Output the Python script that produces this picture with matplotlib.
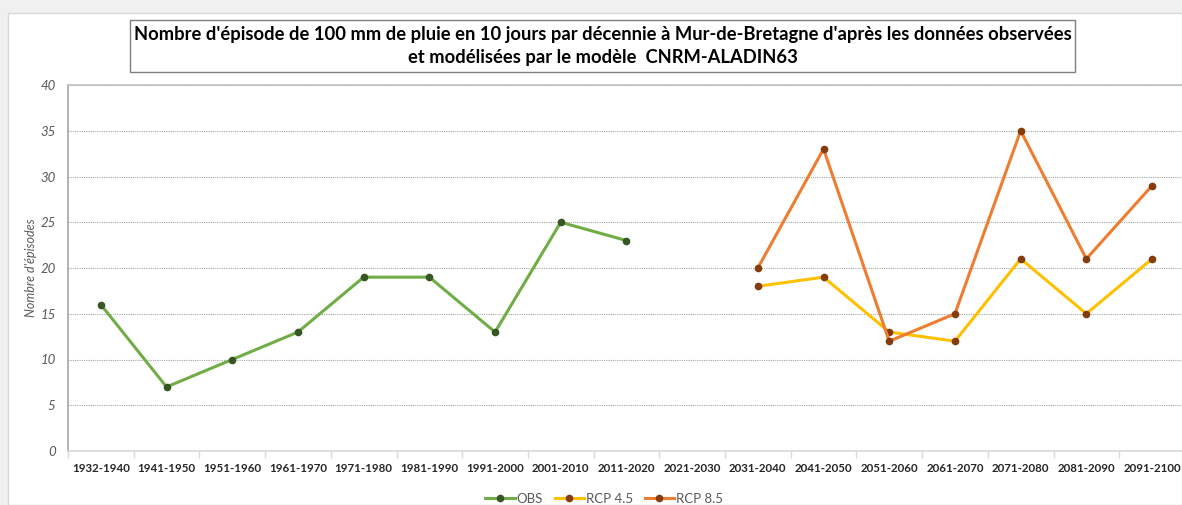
import numpy as np
import matplotlib
matplotlib.use("Agg")
import matplotlib.pyplot as plt
from matplotlib.patches import Rectangle

plt.rcParams['font.family'] = ['Lato', 'DejaVu Sans']

decennies = ["1932-1940", "1941-1950", "1951-1960", "1961-1970", "1971-1980",
             "1981-1990", "1991-2000", "2001-2010", "2011-2020", "2021-2030",
             "2031-2040", "2041-2050", "2051-2060", "2061-2070", "2071-2080",
             "2081-2090", "2091-2100"]
obs = [16, 7, 10, 13, 19, 19, 13, 25, 23, None, None, None, None, None, None, None, None]
rcp45 = [None] * 10 + [18, 19, 13, 12, 21, 15, 21]
rcp85 = [None] * 10 + [20, 33, 12, 15, 35, 21, 29]

def to_arr(v):
    return np.array([np.nan if x is None else x for x in v], dtype=float)

W, H = 1182, 505
fig = plt.figure(figsize=(W / 100, H / 100), dpi=100)
fig.patch.set_facecolor("#f0f0f0")

# white chart area
fig.patches.append(Rectangle((8 / W, 0), 1 - 8 / W, 1 - 13 / H, transform=fig.transFigure,
                             facecolor="white", edgecolor="#d9d9d9", lw=1, zorder=0))

left, right_px, top, bot = 68, 68 + 17 * 65.7, 85, 451
ax = fig.add_axes([left / W, (H - bot) / H, (right_px - left) / W, (bot - top) / H])
ax.set_zorder(3)
ax.set_facecolor("white")

x = np.arange(len(decennies))
ax.plot(x, to_arr(obs), color="#70ad47", lw=2.2, marker="o", ms=4.5,
        mfc="#375623", mec="#375623", label="OBS", zorder=3)
ax.plot(x, to_arr(rcp45), color="#ffc000", lw=2.2, marker="o", ms=4.5,
        mfc="#843c0c", mec="#843c0c", label="RCP 4.5", zorder=3)
ax.plot(x, to_arr(rcp85), color="#ed7d31", lw=2.2, marker="o", ms=4.5,
        mfc="#843c0c", mec="#843c0c", label="RCP 8.5", zorder=4)

ax.set_xlim(-0.5, len(decennies) - 0.5)
ax.set_ylim(0, 40)
ax.set_yticks(range(0, 41, 5))
ax.yaxis.grid(True, color="#a6a6a6", ls=(0, (1, 1)), lw=0.8)
ax.set_axisbelow(True)

ax.set_xticks(x)
ax.set_xticklabels(decennies, fontsize=8.3, fontweight="bold", color="#262626")
ax.set_xticks(np.arange(-0.5, len(decennies)), minor=True)
ax.tick_params(axis="x", which="major", length=0, pad=9)
ax.tick_params(axis="x", which="minor", length=5, color="#d9d9d9", width=1)
ax.tick_params(axis="y", length=0, pad=9, labelsize=9.5, labelcolor="#595959")
for lab in ax.get_yticklabels():
    lab.set_fontstyle("italic")

ax.spines["right"].set_visible(False)
ax.spines["left"].set_color("#a6a6a6")
ax.spines["left"].set_linewidth(1.2)
ax.spines["top"].set_color("#bfbfbf")
ax.spines["top"].set_linewidth(1.2)
ax.spines["bottom"].set_color("#d9d9d9")
ax.spines["bottom"].set_linewidth(1.2)

ax.set_ylabel("Nombre d'épisodes", fontsize=9, fontstyle="italic", color="#595959", labelpad=2.5)

leg = ax.legend(loc="upper center", bbox_to_anchor=(0.48, -0.082), ncol=3, frameon=False,
                fontsize=9.5, handlelength=2.2, columnspacing=0.9, handletextpad=0.15)
for t in leg.get_texts():
    t.set_color("#595959")

# title in a framed box
fig.patches.append(Rectangle((130 / W, 1 - 72 / H), (1075 - 130) / W, 52 / H,
                             transform=fig.transFigure, facecolor="white",
                             edgecolor="#7f7f7f", lw=1, zorder=1))
fig.text(603 / W, 1 - 46 / H,
         "Nombre d'épisode de 100 mm de pluie en 10 jours par décennie à Mur-de-Bretagne d'après les données observées\n"
         "et modélisées par le modèle  CNRM-ALADIN63",
         ha="center", va="center", fontsize=13.2, fontweight="bold", color="black",
         linespacing=1.4, zorder=2)

fig.savefig("out.png", dpi=100, facecolor=fig.get_facecolor())
